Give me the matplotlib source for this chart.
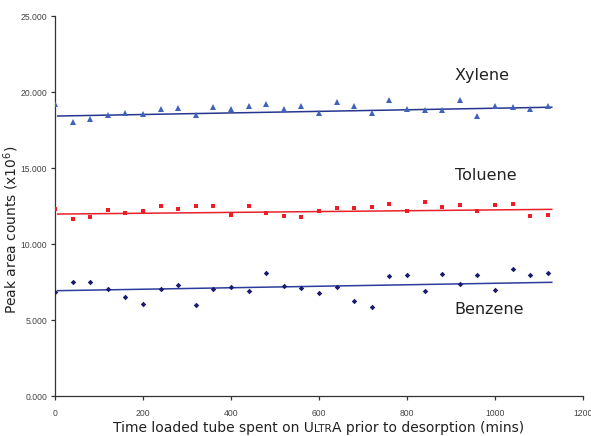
import matplotlib
matplotlib.use("Agg")
import matplotlib.pyplot as plt
from matplotlib.offsetbox import TextArea, HPacker, AnchoredOffsetbox

# sampling times (mins)
times = list(range(0, 1121, 40))

xylene = [19.2, 18.0, 18.2, 18.5, 18.6, 18.55, 18.85, 18.95, 18.5, 19.0,
          18.9, 19.1, 19.2, 18.85, 19.1, 18.6, 19.35, 19.05, 18.65, 19.5,
          18.9, 18.8, 18.8, 19.5, 18.4, 19.1, 19.0, 18.9, 19.1]
toluene = [12.32, 11.67, 11.78, 12.24, 12.02, 12.17, 12.48, 12.28, 12.48, 12.48,
           11.89, 12.52, 12.02, 11.82, 11.75, 12.2, 12.37, 12.37, 12.41, 12.6,
           12.2, 12.78, 12.46, 12.57, 12.17, 12.57, 12.6, 11.86, 11.93]
benzene = [6.84, 7.48, 7.48, 7.02, 6.49, 6.03, 7.02, 7.28, 5.99, 7.06,
           7.17, 6.89, 8.07, 7.21, 7.13, 6.78, 7.17, 6.25, 5.88, 7.87,
           7.94, 6.89, 8.03, 7.37, 7.98, 6.97, 8.36, 7.98, 8.07]

# linear trendlines as drawn in the original (value at start / end)
trend_x = [6, 1129]
xylene_trend = [18.42, 19.0]
toluene_trend = [11.97, 12.28]
benzene_trend = [6.93, 7.48]

yticks = [0, 5, 10, 15, 20, 25]
xticks = [0, 200, 400, 600, 800, 1000, 1200]

fig = plt.figure(figsize=(5.91, 4.36), dpi=100)
ax = fig.add_axes([0.0931, 0.0917, 0.8934, 0.8716])

series = [
    ("Xylene", xylene, xylene_trend, "^", 4.2, "#3f63bd", "#26368f", 21.1),
    ("Toluene", toluene, toluene_trend, "s", 3.3, "#ee1c25", "#e8202a", 14.5),
    ("Benzene", benzene, benzene_trend, "D", 2.8, "#1a1a70", "#2c3c9c", 5.66),
]
for name, vals, trend, mk, ms, mcol, lcol, ly in series:
    ax.plot(trend_x, trend, color=lcol, linewidth=1.1, zorder=2)
    ax.plot(times, vals, linestyle="none", marker=mk, markersize=ms, color=mcol,
            markeredgewidth=0, zorder=3)
    ax.text(908, ly, name, fontsize=11.5, color="#222222", va="center", ha="left")

ax.set_xlim(0, 1200)
ax.set_ylim(0, 25)
ax.set_xticks(xticks)
ax.set_yticks(yticks)
ax.set_yticklabels(["%.3f" % y for y in yticks])
for s in ["top", "right"]:
    ax.spines[s].set_visible(False)
for s in ["left", "bottom"]:
    ax.spines[s].set_color("#333333")
    ax.spines[s].set_linewidth(0.9)
ax.tick_params(length=3, width=0.9, color="#333333", labelsize=6.2,
               labelcolor="#444444")
ax.tick_params(axis="x", pad=6.5)
ax.tick_params(axis="y", pad=2.5)
for lab in ax.get_xticklabels() + ax.get_yticklabels():
    lab.set_family(["Liberation Sans Narrow", "DejaVu Sans Condensed",
                    "Liberation Sans", "DejaVu Sans"])

ax.set_ylabel("Peak area counts (x10$^6$)", fontsize=10, color="#222222")
ax.yaxis.set_label_coords((21 - 55) / 528, (396 - 230) / 380)

# x label with small caps product name
parts = [("Time loaded tube spent on U", 10), ("LTR", 7.6),
         ("A prior to desorption (mins)", 10)]
boxes = [TextArea(s, textprops=dict(fontsize=fs, color="#222222")) for s, fs in parts]
pack = HPacker(children=boxes, align="baseline", pad=0, sep=0)
ab = AnchoredOffsetbox(loc="center", child=pack, frameon=False,
                       bbox_to_anchor=(318.5 / 591, 1 - 428 / 436),
                       bbox_transform=fig.transFigure, borderpad=0, pad=0)
fig.add_artist(ab)

fig.savefig("out.png", dpi=100)
